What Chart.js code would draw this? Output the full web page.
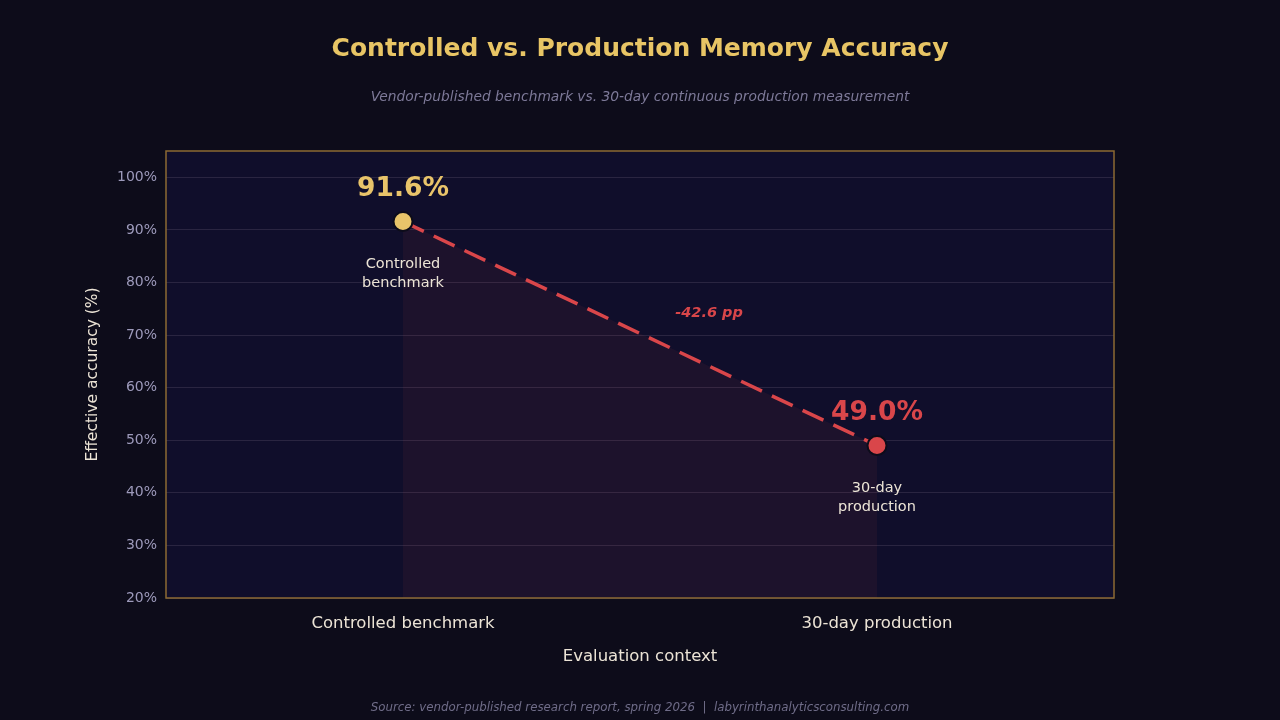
<!DOCTYPE html>
<html>
<head>
<meta charset="utf-8">
<script src="https://cdn.jsdelivr.net/npm/chart.js@4/dist/chart.umd.min.js"></script>
<style>
  html, body { margin: 0; padding: 0; background: #0d0c1a; }
  #wrap { width: 1280px; height: 720px; }
</style>
</head>
<body>
<div id="wrap"><canvas id="chart"></canvas></div>
<script>
// data
var categories = ["Controlled benchmark", "30-day production"];
var pointLabels = [["Controlled", "benchmark"], ["30-day", "production"]];
var accuracy = [91.6, 49.0];
var pointColors = ["#e9c46a", "#d9464a"];
var gapLabel = "-42.6 pp";

var FONT = "'DejaVu Sans', sans-serif";

// plot background, frame, titles and annotations
var decor = {
  id: "decor",
  beforeDraw: function(chart) {
    var ctx = chart.ctx, a = chart.chartArea;
    ctx.save();
    ctx.fillStyle = "#0d0c1a";
    ctx.fillRect(0, 0, chart.width, chart.height);
    ctx.fillStyle = "#100e2b";
    ctx.fillRect(a.left, a.top, a.right - a.left, a.bottom - a.top);
    ctx.restore();
  },
  afterDraw: function(chart) {
    var ctx = chart.ctx, a = chart.chartArea;
    var meta = chart.getDatasetMeta(0);
    ctx.save();
    // frame
    ctx.strokeStyle = "#8c6a33";
    ctx.lineWidth = 1.5;
    ctx.strokeRect(a.left, a.top, a.right - a.left, a.bottom - a.top);

    ctx.textAlign = "center";
    ctx.textBaseline = "middle";
    // title + subtitle
    ctx.fillStyle = "#e8c565";
    ctx.font = "bold 25px " + FONT;
    ctx.fillText("Controlled vs. Production Memory Accuracy", 640, 49);
    ctx.fillStyle = "#7d7998";
    ctx.font = "italic 13.8px " + FONT;
    ctx.fillText("Vendor-published benchmark vs. 30-day continuous production measurement", 640, 97);
    // source
    ctx.fillStyle = "#6f6c88";
    ctx.font = "italic 11.8px " + FONT;
    ctx.fillText("Source: vendor-published research report, spring 2026  |  labyrinthanalyticsconsulting.com", 640, 708);

    // value labels and point captions
    meta.data.forEach(function(pt, i) {
      ctx.fillStyle = pointColors[i];
      ctx.font = "bold 26.5px " + FONT;
      ctx.fillText(accuracy[i].toFixed(1) + "%", pt.x, pt.y - 32);
      ctx.fillStyle = "#ece4d6";
      ctx.font = "14.5px " + FONT;
      ctx.fillText(pointLabels[i][0], pt.x, pt.y + 43);
      ctx.fillText(pointLabels[i][1], pt.x, pt.y + 62);
    });

    // gap label
    var p0 = meta.data[0], p1 = meta.data[1];
    ctx.fillStyle = "#d9464a";
    ctx.font = "italic bold 14.5px " + FONT;
    ctx.fillText(gapLabel, (p0.x + p1.x) / 2 + 69, (p0.y + p1.y) / 2 - 20);
    ctx.restore();
  }
};

new Chart(document.getElementById("chart"), {
  type: "line",
  data: {
    labels: categories,
    datasets: [{
      data: accuracy,
      borderColor: "#d9464a",
      borderWidth: 3.5,
      borderDash: [23, 11],
      fill: "start",
      backgroundColor: "rgba(217, 70, 74, 0.07)",
      pointRadius: 9.5,
      pointHoverRadius: 9.5,
      pointBackgroundColor: pointColors,
      pointBorderColor: "#0d0c1a",
      pointBorderWidth: 2,
      tension: 0
    }]
  },
  options: {
    responsive: true,
    maintainAspectRatio: false,
    animation: false,
    layout: { padding: { top: 151, right: 166, bottom: 0, left: 0 } },
    plugins: {
      legend: { display: false },
      tooltip: { enabled: false }
    },
    scales: {
      x: {
        offset: true,
        grid: { display: false, drawTicks: false },
        border: { display: false },
        ticks: { color: "#ece4d6", font: { family: FONT, size: 16.5 }, padding: 16 },
        title: {
          display: true, text: "Evaluation context", color: "#ece4d6",
          font: { family: FONT, size: 16.5 }, padding: { top: 0, bottom: 53 }
        },
        afterFit: function(s) { s.height = 122; }
      },
      y: {
        min: 20, max: 105,
        grid: { color: "#2a2541", lineWidth: 1, drawTicks: false },
        border: { display: false },
        ticks: {
          stepSize: 10, padding: 9, color: "#9d9abb",
          font: { family: FONT, size: 14 },
          callback: function(v) { return v + "%"; }
        },
        afterBuildTicks: function(s) {
          s.ticks = s.ticks.filter(function(t) { return t.value <= 100; });
        },
        title: {
          display: true, text: "Effective accuracy (%)", color: "#ece4d6",
          font: { family: FONT, size: 15.5 }, padding: { top: 84, bottom: 0 }
        },
        afterFit: function(s) { s.width = 166; }
      }
    }
  },
  plugins: [decor]
});
</script>
</body>
</html>
